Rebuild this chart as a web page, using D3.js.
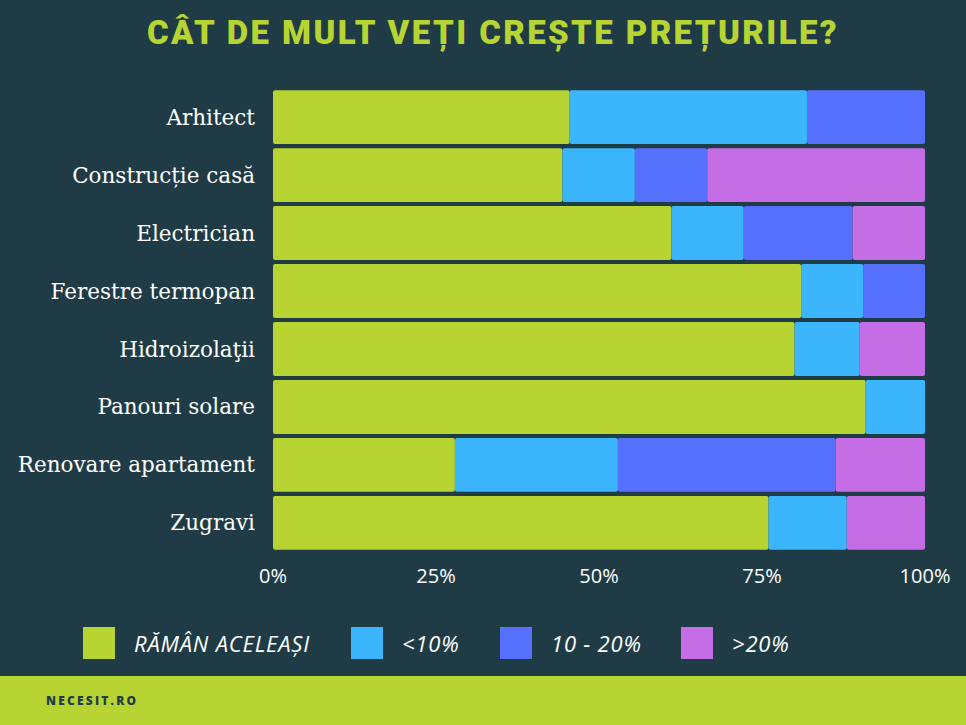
<!DOCTYPE html>
<html><head><meta charset="utf-8">
<script src="https://cdn.jsdelivr.net/npm/d3@7"></script>
<style>body{margin:0;background:#1f3c46;}svg{display:block}</style>
</head><body>
<svg id="chart" width="966" height="725"></svg>
<script>
// Kategorien und Werte (%)
var categories = ["Arhitect", "Construcție casă", "Electrician", "Ferestre termopan", "Hidroizolaţii", "Panouri solare", "Renovare apartament", "Zugravi"];
var raman = [45.5, 44.4, 61.1, 81.0, 80.0, 90.9, 27.9, 76.0];
var sub10 = [36.4, 11.1, 11.1, 9.5, 10.0, 9.1, 25.0, 12.0];
var intre10_20 = [18.1, 11.1, 16.7, 9.5, 0, 0, 33.4, 0];
var peste20 = [0, 33.4, 11.1, 0, 10.0, 0, 13.7, 12.0];
var seriesNames = ["RĂMÂN ACELEAȘI", "<10%", "10 - 20%", ">20%"];
var colors = ["#b8d432", "#3bb5fb", "#5470fc", "#c56de5"];
var tickValues = [0, 25, 50, 75, 100];

var svg = d3.select("#chart");
svg.append("rect").attr("width", 966).attr("height", 725).attr("fill", "#1f3c46");

// Titel
svg.append("text").attr("x", 493).attr("y", 44).attr("text-anchor", "middle")
    .style("font-family", "Roboto, sans-serif").style("font-weight", "900").style("font-size", "33px")
    .style("letter-spacing", "2.4px")
    .style("fill", "#b8d432").text("CÂT DE MULT VEȚI CREȘTE PREȚURILE?");

var x = d3.scaleLinear().domain([0, 100]).range([273, 925]);
var y = d3.scaleBand().domain(categories).range([89, 551]).paddingInner(0.07).paddingOuter(0.02);

var rows = categories.map(function(c, i) {
    return {cat: c, vals: [raman[i], sub10[i], intre10_20[i], peste20[i]]};
});

rows.forEach(function(r) {
    var start = 0;
    var segs = r.vals.map(function(v, k) { var s = {k: k, x0: start, x1: start + v}; start += v; return s; });
    svg.append("g").selectAll("rect").data(segs.filter(d => d.x1 > d.x0)).enter().append("rect")
        .attr("x", d => x(d.x0))
        .attr("y", y(r.cat))
        .attr("width", d => x(d.x1) - x(d.x0))
        .attr("height", y.bandwidth())
        .attr("rx", 2)
        .attr("fill", d => colors[d.k]);
});

// Y-Beschriftungen
svg.append("g").selectAll("text").data(categories).enter().append("text")
    .attr("x", 255).attr("y", d => y(d) + y.bandwidth() / 2).attr("dy", "0.35em")
    .attr("text-anchor", "end")
    .style("font-family", "'DejaVu Serif', serif").style("font-size", "21.5px").style("fill", "#fff")
    .text(d => d);

// X-Achse
svg.append("g").selectAll("text").data(tickValues).enter().append("text")
    .attr("x", d => x(d)).attr("y", 583).attr("text-anchor", "middle")
    .style("font-family", "'Open Sans', sans-serif").style("font-size", "20px").style("fill", "#fff")
    .text(d => d + "%");

// Legende
var legX = [83, 351, 500, 681];
var leg = svg.append("g").selectAll("g").data(seriesNames).enter().append("g")
    .attr("transform", (d, i) => "translate(" + legX[i] + ",627)");
leg.append("rect").attr("width", 32).attr("height", 32).attr("fill", (d, i) => colors[i]);
leg.append("text").attr("x", 51).attr("y", 17).attr("dy", "0.35em")
    .style("font-family", "'Open Sans', sans-serif").style("font-style", "italic").style("font-size", "22px")
    .style("letter-spacing", "0.8px")
    .style("fill", "#fff").text(d => d);

// Fußzeile
svg.append("rect").attr("x", 0).attr("y", 676).attr("width", 966).attr("height", 49).attr("fill", "#b8d432");
svg.append("text").attr("x", 46).attr("y", 705)
    .style("font-family", "'Open Sans', sans-serif").style("font-weight", "800").style("font-size", "12px")
    .style("letter-spacing", "2.2px").style("fill", "#1f3c46").text("NECESIT.RO");
</script>
</body></html>
